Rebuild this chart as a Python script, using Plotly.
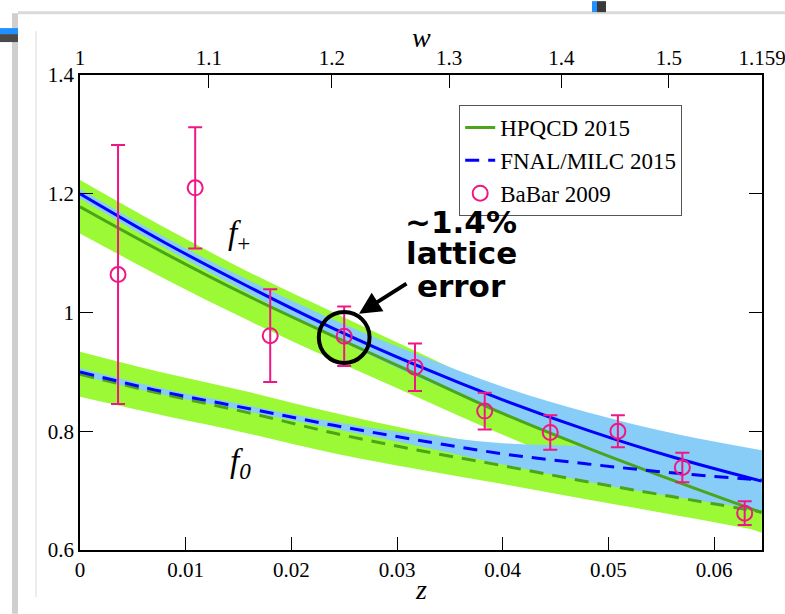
import math
import plotly.graph_objects as go

# ---------------- data ----------------
Z_GRID = [0.0, 0.008, 0.016, 0.024, 0.032, 0.040, 0.048, 0.056, 0.0645]

HPQCD_FP = [1.178, 1.100, 1.027, 0.960, 0.895, 0.830, 0.772, 0.718, 0.663]
HPQCD_FP_ERR = [0.045, 0.043, 0.041, 0.040, 0.038, 0.036, 0.035, 0.034, 0.034]
HPQCD_F0 = [0.896, 0.862, 0.831, 0.797, 0.768, 0.742, 0.715, 0.690, 0.664]
HPQCD_F0_ERR = [0.038, 0.036, 0.035, 0.034, 0.032, 0.031, 0.030, 0.030, 0.032]

FNAL_FP = [1.200, 1.118, 1.043, 0.973, 0.910, 0.853, 0.802, 0.757, 0.716]
FNAL_FP_ERR = [0.008, 0.009, 0.011, 0.015, 0.019, 0.022, 0.030, 0.040, 0.052]
FNAL_F0 = [0.900, 0.866, 0.838, 0.810, 0.785, 0.762, 0.745, 0.730, 0.718]
FNAL_F0_ERR = [0.006, 0.005, 0.005, 0.006, 0.010, 0.018, 0.030, 0.040, 0.050]

BABAR_Z = [0.0036, 0.0109, 0.0180, 0.0250, 0.0317, 0.0383, 0.0445, 0.0509, 0.0570, 0.0629]
BABAR_F = [1.064, 1.210, 0.961, 0.960, 0.908, 0.834, 0.798, 0.800, 0.739, 0.662]
BABAR_ERR = [0.218, 0.102, 0.078, 0.050, 0.040, 0.031, 0.029, 0.027, 0.025, 0.020]

Z_TICKS = [0.0, 0.01, 0.02, 0.03, 0.04, 0.05, 0.06]
Z_TICK_TEXT = ["0", "0.01", "0.02", "0.03", "0.04", "0.05", "0.06"]
Y_TICKS = [0.6, 0.8, 1.0, 1.2, 1.4]
Y_TICK_TEXT = ["0.6", "0.8", "1", "1.2", "1.4"]
W_TICKS = [1.0, 1.1, 1.2, 1.3, 1.4, 1.5, 1.59]
W_TICK_TEXT = ["1", "1.1", "1.2", "1.3", "1.4", "1.5", "1.159"]


def z_of_w(w):
    a = math.sqrt(w + 1.0)
    b = math.sqrt(2.0)
    return (a - b) / (a + b)


Z_MAX = z_of_w(W_TICKS[-1])

GREEN_LINE = "#4aa518"
GREEN_BAND = "#9cf935"
BLUE_LINE = "#0000ff"
BLUE_BAND = "#88cdf8"
PINK = "#f01784"
SERIF = "Liberation Serif, Times New Roman, serif"

fig = go.Figure()


def band(center, err, color):
    lo = [c - e for c, e in zip(center, err)]
    hi = [c + e for c, e in zip(center, err)]
    fig.add_trace(go.Scatter(x=Z_GRID, y=lo, mode="lines", line=dict(width=0, shape="spline"),
                             showlegend=False, hoverinfo="skip"))
    fig.add_trace(go.Scatter(x=Z_GRID, y=hi, mode="lines", line=dict(width=0, shape="spline"),
                             fill="tonexty", fillcolor=color, showlegend=False, hoverinfo="skip"))


band(HPQCD_FP, HPQCD_FP_ERR, GREEN_BAND)
band(HPQCD_F0, HPQCD_F0_ERR, GREEN_BAND)
band(FNAL_FP, FNAL_FP_ERR, BLUE_BAND)
band(FNAL_F0, FNAL_F0_ERR, BLUE_BAND)

fig.add_trace(go.Scatter(x=Z_GRID, y=HPQCD_FP, mode="lines", name="HPQCD 2015",
                         line=dict(color=GREEN_LINE, width=3, shape="spline")))
fig.add_trace(go.Scatter(x=Z_GRID, y=HPQCD_F0, mode="lines", showlegend=False,
                         line=dict(color=GREEN_LINE, width=3, dash="14px,9px", shape="spline")))
fig.add_trace(go.Scatter(x=Z_GRID, y=FNAL_FP, mode="lines", showlegend=False,
                         line=dict(color=BLUE_LINE, width=3, shape="spline")))
fig.add_trace(go.Scatter(x=Z_GRID, y=FNAL_F0, mode="lines", name="FNAL/MILC 2015",
                         line=dict(color=BLUE_LINE, width=3, dash="14px,9px", shape="spline")))
fig.add_trace(go.Scatter(x=BABAR_Z, y=BABAR_F, mode="markers", name="BaBar 2009",
                         marker=dict(symbol="circle-open", size=15, color=PINK, line=dict(width=2, color=PINK)),
                         error_y=dict(type="data", array=BABAR_ERR, color=PINK, thickness=2, width=7)))
# invisible trace to activate the top (w) axis
fig.add_trace(go.Scatter(x=[Z_GRID[0]], y=[FNAL_FP[0]], xaxis="x2", mode="lines",
                         line=dict(width=0), showlegend=False, hoverinfo="skip"))

axis_common = dict(showgrid=False, zeroline=False, showline=True, linecolor="black", linewidth=1.5,
                   ticks="inside", ticklen=13, tickwidth=1.2, tickcolor="black", automargin=False,
                   ticklabeloverflow="allow",
                   tickfont=dict(family=SERIF, size=21, color="black"))

fig.update_layout(
    width=785, height=614,
    margin=dict(l=80, r=23, t=75, b=64),
    paper_bgcolor="white", plot_bgcolor="white",
    font=dict(family=SERIF, size=20, color="black"),
    xaxis=dict(range=[0, Z_MAX], tickvals=Z_TICKS, ticktext=Z_TICK_TEXT, **axis_common),
    xaxis2=dict(range=[0, Z_MAX], overlaying="x", side="top",
                tickvals=[z_of_w(w) for w in W_TICKS], ticktext=W_TICK_TEXT, **axis_common),
    yaxis=dict(range=[0.6, 1.4], tickvals=Y_TICKS, ticktext=Y_TICK_TEXT, mirror="ticks", **axis_common),
    legend=dict(x=0.556, y=0.937, xanchor="left", yanchor="top", bgcolor="white", traceorder="normal",
                bordercolor="#555555", borderwidth=1, font=dict(family=SERIF, size=23, color="black"),
                tracegroupgap=0, itemwidth=30),
    showlegend=True,
)

# axis titles (w on top, z at bottom)
fig.add_annotation(xref="paper", yref="paper", x=0.5, y=1.078, yanchor="middle", text="<i>w</i>",
                   showarrow=False, font=dict(family=SERIF, size=28, color="black"))
fig.add_annotation(xref="paper", yref="paper", x=0.5, y=-0.084, yanchor="middle", text="<i>z</i>",
                   showarrow=False, font=dict(family=SERIF, size=28, color="black"))

# labels f+ and f0
fig.add_annotation(x=0.0150, y=1.129, text="<i>f</i><sub>+</sub>", showarrow=False,
                   font=dict(family=SERIF, size=33, color="black"))
fig.add_annotation(x=0.0152, y=0.746, text="<i>f</i><sub><i>0</i></sub>", showarrow=False,
                   font=dict(family=SERIF, size=33, color="black"))

# "~1.4% lattice error" callout
BOLD = dict(family="DejaVu Sans", size=31, color="black")
for txt, yv in [("<b>~1.4%</b>", 1.153), ("<b>lattice</b>", 1.100), ("<b>error</b>", 1.044)]:
    fig.add_annotation(x=0.0361, y=yv, text=txt, showarrow=False, font=BOLD)
fig.add_annotation(x=0.0264, y=0.998, ax=49, ay=-31, text="", showarrow=True,
                   arrowhead=2, arrowsize=1.1, arrowwidth=4, arrowcolor="black")
i_c = 3
fig.add_shape(type="circle", xref="x", yref="y",
              x0=BABAR_Z[i_c] - 0.0024, x1=BABAR_Z[i_c] + 0.0024,
              y0=BABAR_F[i_c] - 0.045, y1=BABAR_F[i_c] + 0.041,
              line=dict(color="black", width=4))


# screenshot surroundings (pixel -> paper)
def px(xp):
    return (xp - 80) / 682.0


def py(yp):
    return (550 - yp) / 476.0


deco = [
    (12, 12, 18, 614, "#cfcfcf"),
    (35, 30, 37, 597, "#ececec"),
    (18, 10, 785, 13, "#dadada"),
    (0, 27, 18, 33, "#1e90ff"),
    (0, 33, 18, 41, "#4a4a4a"),
    (592, 0, 597, 11, "#1e90ff"),
    (597, 0, 606, 11, "#3a3a3a"),
]
for x0, y0, x1, y1, col in deco:
    fig.add_shape(type="rect", xref="paper", yref="paper", x0=px(x0), x1=px(x1), y0=py(y1), y1=py(y0),
                  fillcolor=col, line=dict(width=0), layer="below")

fig.write_html("out.html")
